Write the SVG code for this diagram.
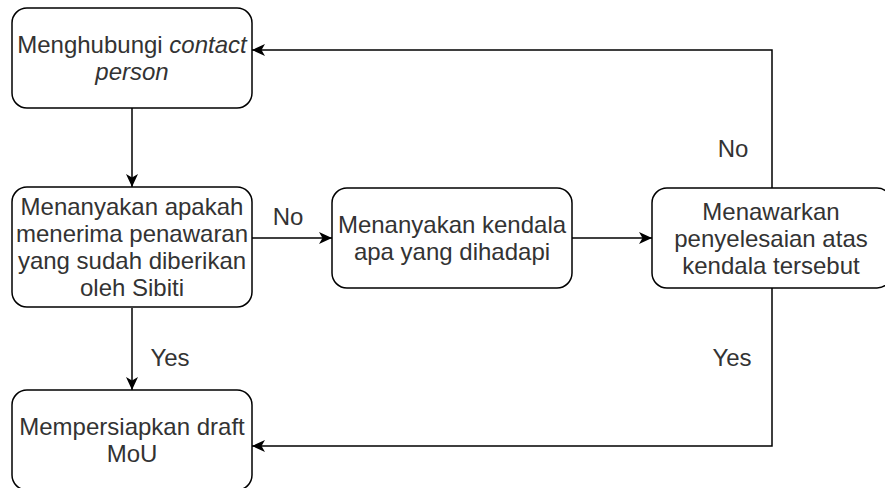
<svg xmlns="http://www.w3.org/2000/svg" width="885" height="488" viewBox="0 0 885 488">
<style>
.box{fill:#fff;stroke:#000;stroke-width:1.5}
.t{font-family:"Liberation Sans",Arial,sans-serif;font-size:24px;fill:#333;text-anchor:middle}
.e{fill:none;stroke:#000;stroke-width:1.5;marker-end:url(#arr)}
</style>
<defs>
<marker id="arr" markerUnits="userSpaceOnUse" markerWidth="14" markerHeight="12" viewBox="0 0 14 12" refX="13" refY="6" orient="auto">
<path d="M0,0 L13,6 L0,12 L3.5,6 Z" fill="#000"/>
</marker>
</defs>
<rect width="885" height="488" fill="#fff"/>
<g id="connectors">
<path class="e" d="M132,108 L132,187"/>
<path class="e" d="M252,238 L332,238"/>
<path class="e" d="M132,308 L132,390"/>
<path class="e" d="M572,238 L652,238"/>
<path class="e" d="M772,188 L772,50 L252,50"/>
<path class="e" d="M772,288 L772,446 L252,446"/>
<text class="t" x="288" y="225">No</text>
<text class="t" x="170" y="366">Yes</text>
<text class="t" x="733" y="157">No</text>
<text class="t" x="732" y="366">Yes</text>
</g>
<g id="n1">
<rect class="box" x="12" y="8" width="240" height="100" rx="15"/>
<text class="t" x="132" y="53">Menghubungi <tspan font-style="italic">contact</tspan></text>
<text class="t" x="132" y="80" font-style="italic">person</text>
</g>
<g id="n2">
<rect class="box" x="12" y="187" width="240" height="120" rx="15"/>
<text class="t" x="132" y="215">Menanyakan apakah</text>
<text class="t" x="132" y="242">menerima penawaran</text>
<text class="t" x="132" y="269">yang sudah diberikan</text>
<text class="t" x="132" y="296">oleh Sibiti</text>
</g>
<g id="n3">
<rect class="box" x="332" y="188" width="240" height="100" rx="15"/>
<text class="t" x="452" y="233">Menanyakan kendala</text>
<text class="t" x="452" y="260">apa yang dihadapi</text>
</g>
<g id="n4">
<rect class="box" x="652" y="188" width="240" height="100" rx="15"/>
<text class="t" x="771" y="220">Menawarkan</text>
<text class="t" x="771" y="247">penyelesaian atas</text>
<text class="t" x="771" y="274">kendala tersebut</text>
</g>
<g id="n5">
<rect class="box" x="12" y="390" width="240" height="100" rx="15"/>
<text class="t" x="132" y="435">Mempersiapkan draft</text>
<text class="t" x="132" y="462">MoU</text>
</g>
</svg>
